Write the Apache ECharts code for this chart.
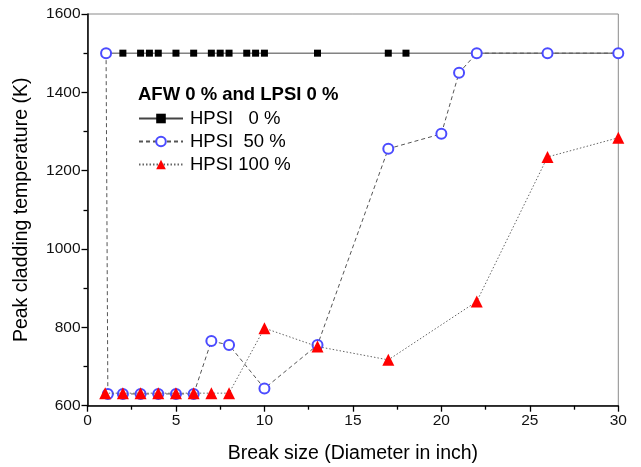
<!DOCTYPE html>
<html><head><meta charset="utf-8">
<script src="https://cdn.jsdelivr.net/npm/echarts@6/dist/echarts.min.js"></script>
<style>html,body{margin:0;padding:0;background:#fff}#c{width:641px;height:467px}</style>
</head><body><div id="c"></div>
<script>
// Data
var hpsi0X = [1, 2, 3, 3.5, 4, 5, 6, 7, 7.5, 8, 9, 9.5, 10, 13, 17, 18, 22, 26, 30];
var hpsi0Y = [1500,1500,1500,1500,1500,1500,1500,1500,1500,1500,1500,1500,1500,1500,1500,1500,1500,1500,1500];
var hpsi50X = [1.05, 1.15, 2, 3, 4, 5, 6, 7, 8, 10, 13, 17, 20, 21, 22, 26, 30];
var hpsi50Y = [1500, 630, 630, 630, 630, 630, 630, 765, 755, 644, 755, 1256, 1294, 1450, 1500, 1500, 1500];
var hpsi100X = [1, 2, 3, 4, 5, 6, 7, 8, 10, 13, 17, 22, 26, 30];
var hpsi100Y = [632, 632, 632, 632, 632, 632, 632, 632, 798, 751, 717, 866, 1235, 1284];
var seriesNames = ['HPSI   0 %', 'HPSI  50 %', 'HPSI 100 %'];
var legendTitle = 'AFW 0 % and LPSI 0 %';
var xTitle = 'Break size (Diameter in inch)';
var yTitle = 'Peak cladding temperature (K)';

function pairs(xs, ys){ return xs.map(function(x,i){ return [x, ys[i]]; }); }

var font = 'Liberation Sans, Arial, sans-serif';
var chart = echarts.init(document.getElementById('c'), null, {renderer:'canvas'});
chart.setOption({
  animation: false,
  backgroundColor: '#fff',
  textStyle: {fontFamily: font},
  title: {
    text: legendTitle, left: 133, top: 80,
    textStyle: {fontFamily: font, fontWeight: 'bold', fontSize: 18.5, color: '#000'}
  },
  legend: {
    orient: 'vertical', left: 133, top: 104, itemGap: 4,
    itemWidth: 44, itemHeight: 12,
    textStyle: {fontFamily: font, fontSize: 18.5, color: '#000', padding: [0,0,0,2]},
    data: seriesNames
  },
  grid: {left: 87.5, right: 22.7, top: 14, bottom: 61.3, show: true, borderColor: '#8a8a8a', borderWidth: 1,
         containLabel: false, outerBoundsMode: 'none'},
  xAxis: {
    type: 'value', min: 0, max: 30, interval: 5,
    name: xTitle, nameLocation: 'middle', nameGap: 38,
    nameTextStyle: {fontFamily: font, fontSize: 19.5, color: '#000'},
    axisLine: {show: true, lineStyle: {color: '#000', width: 1.5}},
    axisTick: {show: true, inside: false, length: 6, lineStyle: {color: '#000', width: 1.3}},
    minorTick: {show: true, splitNumber: 2, length: 4, lineStyle: {color: '#000', width: 1.3}},
    axisLabel: {fontFamily: font, fontSize: 15.5, color: '#111', margin: 7},
    splitLine: {show: false}
  },
  yAxis: {
    type: 'value', min: 600, max: 1600, interval: 200,
    name: yTitle, nameLocation: 'middle', nameGap: 56, nameRotate: 90,
    nameTextStyle: {fontFamily: font, fontSize: 19.5, color: '#000'},
    axisLine: {show: true, lineStyle: {color: '#000', width: 1.5}},
    axisTick: {show: true, inside: false, length: 6, lineStyle: {color: '#000', width: 1.3}},
    minorTick: {show: true, splitNumber: 2, length: 4, lineStyle: {color: '#000', width: 1.3}},
    axisLabel: {fontFamily: font, fontSize: 15.5, color: '#111', margin: 7, formatter: function(v){ return String(v); }},
    splitLine: {show: false}
  },
  series: [
    {
      name: seriesNames[0], type: 'line', data: pairs(hpsi0X, hpsi0Y),
      symbol: 'rect', symbolSize: 7,
      itemStyle: {color: '#000'},
      lineStyle: {color: '#444', width: 1, type: 'solid'},
      z: 2
    },
    {
      name: seriesNames[1], type: 'line', data: pairs(hpsi50X, hpsi50Y),
      symbol: 'emptyCircle', symbolSize: 10,
      itemStyle: {color: '#4b4bff', borderWidth: 1.3},
      lineStyle: {color: '#555', width: 1, type: [4, 3]},
      z: 3
    },
    {
      name: seriesNames[2], type: 'line', data: pairs(hpsi100X, hpsi100Y),
      symbol: 'triangle', symbolSize: 12,
      itemStyle: {color: '#ff0000'},
      lineStyle: {color: '#666', width: 1, type: [1.5, 2]},
      z: 4
    }
  ]
});
</script>
</body></html>
